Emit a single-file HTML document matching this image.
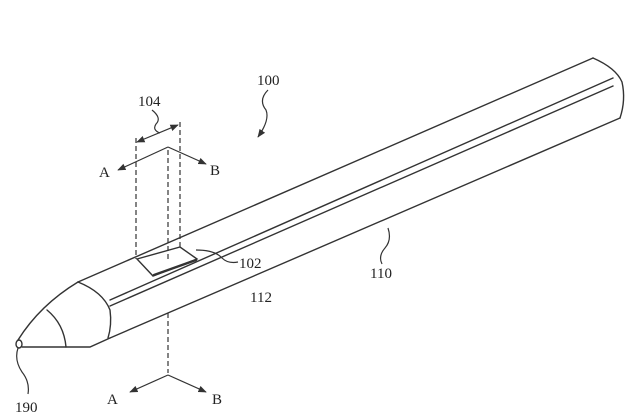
<!DOCTYPE html>
<html><head><style>
html,body{margin:0;padding:0;background:#fff;}
svg{display:block;}
text{font-family:"Liberation Serif",serif;font-size:15px;fill:#222;}
</style></head><body>
<svg width="633" height="418" viewBox="0 0 633 418" xmlns="http://www.w3.org/2000/svg">
<defs>
<marker id="ah" viewBox="0 0 10 10" refX="9" refY="5" markerWidth="7" markerHeight="7" orient="auto-start-reverse">
<path d="M0,1 L10,5 L0,9 z" fill="#333"/></marker>
</defs>
<g fill="none" stroke="#333" stroke-width="1.4" stroke-linecap="round">
<path d="M78,282 L593,58"/>
<path d="M110,300 L613,78"/>
<path d="M110,306 L613,86"/>
<path d="M110,338 L620,118"/>
<path d="M593,58 Q616,68 622,82 Q626,100 620,118"/>
<path d="M78,282 Q103,292 110,310 Q112,325 108,338"/>
<path d="M47,310 Q64,324 66,347"/>
<path d="M78,282 Q40,305 18,340"/>
<path d="M22,347 L90,347 L110,338"/>
<ellipse cx="19" cy="344" rx="3" ry="4"/>
<path d="M137,259 L180,247 L197,259 L153,276 Z"/>
<path d="M154,275 L196,260" stroke-width="2.4"/>
</g>
<g fill="none" stroke="#333" stroke-width="1.2" stroke-dasharray="5,3">
<path d="M136,138 L136,259"/>
<path d="M168,150 L168,262"/>
<path d="M180,122 L180,248"/>
<path d="M168,313 L168,373"/>
</g>
<g fill="none" stroke="#333" stroke-width="1.2">
<path d="M168,147 L118,170" marker-end="url(#ah)"/>
<path d="M168,147 L206,164" marker-end="url(#ah)"/>
<path d="M168,375 L130,392" marker-end="url(#ah)"/>
<path d="M168,375 L206,392" marker-end="url(#ah)"/>
<path d="M137,142 L178,125" marker-start="url(#ah)" marker-end="url(#ah)"/>
<path d="M152,110 Q162,118 156,124 Q152,130 160,133"/>
<path d="M268,90 Q258,100 266,110 Q270,120 258,137" marker-end="url(#ah)"/>
<path d="M196,250 Q215,250 222,258 Q228,264 238,262"/>
<path d="M388,228 Q392,240 385,248 Q378,256 382,264"/>
<path d="M18,348 Q14,360 22,372 Q30,382 28,394"/>
</g>
<text x="138" y="106">104</text>
<text x="257" y="85">100</text>
<text x="99" y="177">A</text>
<text x="210" y="175">B</text>
<text x="239" y="268">102</text>
<text x="250" y="302">112</text>
<text x="370" y="278">110</text>
<text x="15" y="412">190</text>
<text x="107" y="404">A</text>
<text x="212" y="404">B</text>
</svg>
</body></html>
